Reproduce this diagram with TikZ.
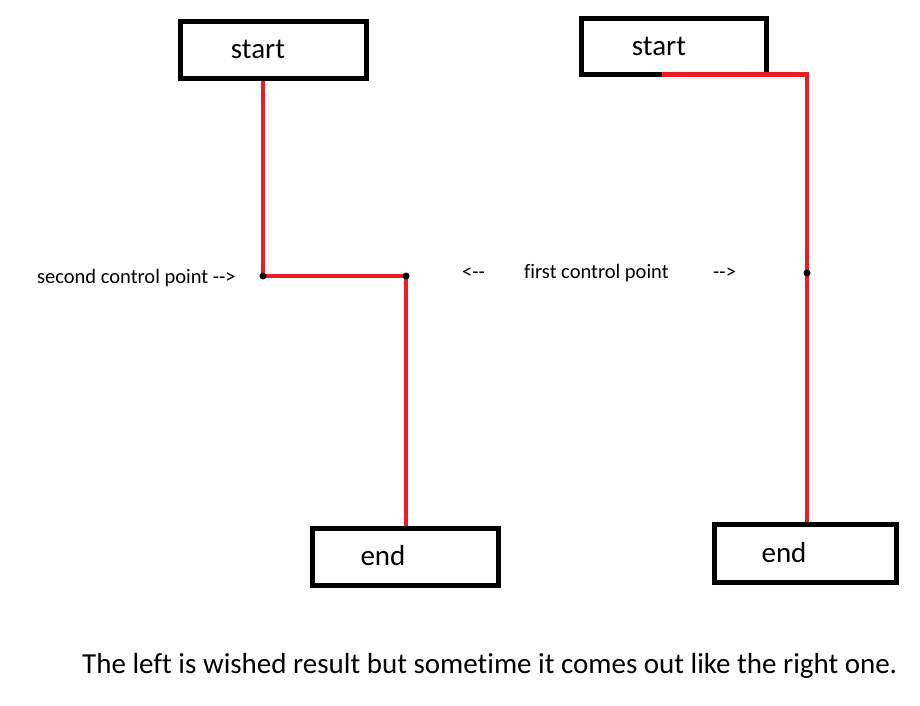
\documentclass[tikz,border=0pt]{standalone}
\usepackage{fontspec}
\setmainfont{Carlito}[Ligatures=NoCommon]
\definecolor{pred}{RGB}{237,28,36}
\tikzset{
  box/.style={draw=black, line width=5pt, minimum width=186pt, minimum height=57pt, inner sep=0pt},
  boxtext/.style={font=\fontsize{29}{34}\selectfont, inner sep=0pt},
  lbl/.style={font=\fontsize{20.5}{24}\selectfont, inner sep=0pt},
  wire/.style={draw=pred, line width=4.5pt},
  dot/.style={circle, fill=black, minimum size=7pt, inner sep=0pt}
}
\begin{document}
\begin{tikzpicture}[x=1pt,y=-1pt]
\useasboundingbox (0,0) rectangle (920,706);
% boxes
\node[box] (ls) at (273.5,50) {};
\node[boxtext] (lst) at (258,49) {start};
\node[box] (le) at (405,557) {};
\node[boxtext] (let) at (383,556) {end};
\node[box, minimum width=185pt, minimum height=56pt] (rs) at (674,46.5) {};
\node[boxtext] (rst) at (659,46) {start};
\node[box, minimum width=182pt, minimum height=58pt] (re) at (805.5,553.5) {};
\node[boxtext] (ret) at (784,553) {end};
% control points
\coordinate (c1) at (263,276);
\coordinate (c2) at (406,276);
\coordinate (r1) at (807,273);
\coordinate (rsx) at (662,74.5);
% connectors
\draw[wire] (ls.south -| c1) -- (c1) -- (c2) -- (le.north -| c2);
\draw[wire] (rsx) -| (r1) -- (re.north -| r1);
\node[dot] (d1) at (c1) {};
\node[dot] (d2) at (c2) {};
\node[dot] (d3) at (r1) {};
% labels
\node[lbl, anchor=west] (l2) at (37,278) {second control point -{}->};
\node[lbl, anchor=west] (la) at (462,273) {<-{}-};
\node[lbl, anchor=west] (l1) at (524,273) {first control point};
\node[lbl, anchor=west] (lb) at (713,273) {-{}->};
\node[font=\fontsize{29}{34}\selectfont, inner sep=0pt, anchor=west] (cap) at (82,666) {The left is wished result but sometime it comes out like the right one.};
\end{tikzpicture}
\end{document}
